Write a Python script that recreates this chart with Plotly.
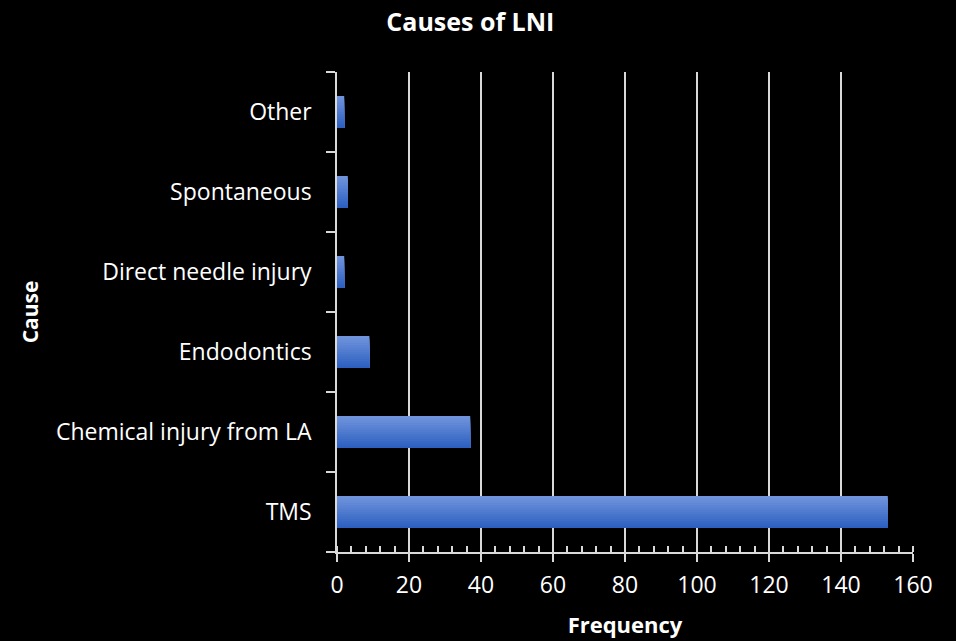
import plotly.graph_objects as go

# Causes of lingual nerve injury and their frequencies
causes = ["TMS", "Chemical injury from LA", "Endodontics",
          "Direct needle injury", "Spontaneous", "Other"]
frequency = [153, 37, 9, 2, 3, 2]

x_ticks = [0, 20, 40, 60, 80, 100, 120, 140, 160]

FONT = "Open Sans"
TEXT = "#ffffff"
LINE = "#d9d9d9"

# vertical gradient: each layer spans from the bar's bottom edge up to a
# progressively lower top edge, so the stack reads light at top, dark below
bar_width = 0.4
n_bands = 14
top_rgb = (112, 148, 220)
bot_rgb = (46, 96, 193)

fig = go.Figure()
for i in range(n_bands):
    t = i / (n_bands - 1)
    r, g, b = [round(top_rgb[k] + (bot_rgb[k] - top_rgb[k]) * t) for k in range(3)]
    band = bar_width / n_bands
    fig.add_trace(go.Bar(
        y=causes, x=frequency, orientation="h",
        width=bar_width - i * band,
        offset=-bar_width / 2,
        marker=dict(color=f"rgb({r},{g},{b})", line=dict(width=0)),
        hoverinfo="x+y" if i == 0 else "skip", showlegend=False,
    ))

fig.update_layout(
    width=956, height=641,
    paper_bgcolor="#000000", plot_bgcolor="#000000",
    margin=dict(l=337, r=43, t=72, b=89),
    barmode="overlay",
    font=dict(family=FONT, color=TEXT, size=23),
    title=dict(text="<b>Causes of LNI</b>", x=0.492, xanchor="center",
               y=0.966, yanchor="middle", font=dict(size=25, family=FONT, color=TEXT)),
    xaxis=dict(
        range=[0, 160], tickvals=x_ticks, ticktext=[str(v) for v in x_ticks],
        showgrid=True, gridcolor=LINE, gridwidth=1.5,
        showline=True, linecolor=LINE, linewidth=1.5,
        ticks="outside", ticklen=8, tickwidth=1.5, tickcolor=LINE,
        minor=dict(ticks="inside", dtick=4, ticklen=6, tickwidth=1.5,
                   tickcolor=LINE, showgrid=False),
        zeroline=False, ticklabelstandoff=4, automargin=False,
        tickfont=dict(size=23, family=FONT, color=TEXT),
        title=dict(text="<b>Frequency</b>", standoff=18,
                   font=dict(size=22, family=FONT, color=TEXT)),
        fixedrange=True,
    ),
    yaxis=dict(
        categoryorder="array", categoryarray=causes,
        showline=True, linecolor=LINE, linewidth=1.5,
        ticks="outside", ticklen=9, tickwidth=1.5, tickcolor=LINE,
        tickson="boundaries", showgrid=False, zeroline=False,
        ticklabelstandoff=19, automargin=False,
        tickfont=dict(size=23, family=FONT, color=TEXT),
        title=dict(text="<b>Cause</b>", standoff=12,
                   font=dict(size=21, family=FONT, color=TEXT)),
        fixedrange=True,
    ),
)

fig.write_html("out.html")
